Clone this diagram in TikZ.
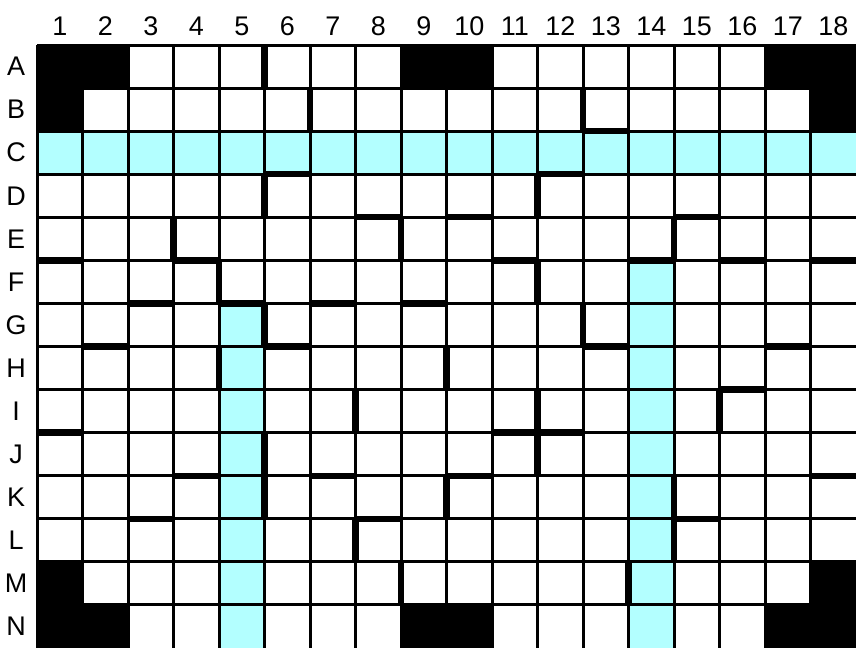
\documentclass[tikz,border=0pt]{standalone}
\usepackage{fontspec}
\setmainfont{Liberation Sans}
\usepackage{xcolor}
\usepackage{tikz}
\definecolor{aisle}{RGB}{179,255,255}

\begin{document}
\begin{tikzpicture}[x=1.365cm, y=-1.2921cm,
    thinline/.style={line width=0.09cm},
    wall/.style={line width=0.19cm, line cap=square},
    lbl/.style={font=\fontsize{23}{23}\selectfont}]
    \useasboundingbox (-0.8132,-1.0448) rectangle (18,14);

    % Aisles
    \fill[aisle] (0,2) rectangle (18,3);
    \fill[aisle] (4,6) rectangle (5,14);
    \fill[aisle] (13,5) rectangle (14,14);

    % Blocked cells
    \foreach \c/\r in {1/1,2/1,1/2,9/1,10/1,17/1,18/1,18/2,
                       1/13,1/14,2/14,9/14,10/14,18/13,17/14,18/14}
        \fill[black] (\c-1,\r-1) rectangle (\c,\r);

    % Grid
    \foreach \i in {0,...,17}
        \draw[thinline] (\i,0) -- (\i,14);
    \foreach \j in {0,...,13}
        \draw[thinline] (0,\j) -- (18,\j);

    % Vertical walls
    \foreach \v/\r in {5/1,6/2,12/2,5/4,11/4,3/5,8/5,14/5,4/6,11/6,5/7,12/7,4/8,
                       9/8,7/9,11/9,15/9,5/10,11/10,5/11,9/11,14/11,7/12,14/12,8/13,13/13}
        \draw[wall] (\v,\r-1) -- (\v,\r);

    % Horizontal walls
    \foreach \h/\c in {2/13,3/6,3/12,4/8,4/10,4/15,5/1,5/4,5/11,5/14,5/16,5/18,
                       6/3,6/5,6/7,6/9,7/2,7/6,7/13,7/17,8/16,9/1,9/11,9/12,
                       10/4,10/7,10/10,10/18,11/3,11/8,11/15}
        \draw[wall] (\c-1,\h) -- (\c,\h);

    % Labels
    \foreach \c in {1,...,18}
        \node[lbl] (col\c) at (\c-0.5,-0.44) {\c};
    \foreach \r [count=\n] in {A,B,C,D,E,F,G,H,I,J,K,L,M,N}
        \node[lbl] (row\r) at (-0.46,\n-0.5) {\r};
\end{tikzpicture}
\end{document}
